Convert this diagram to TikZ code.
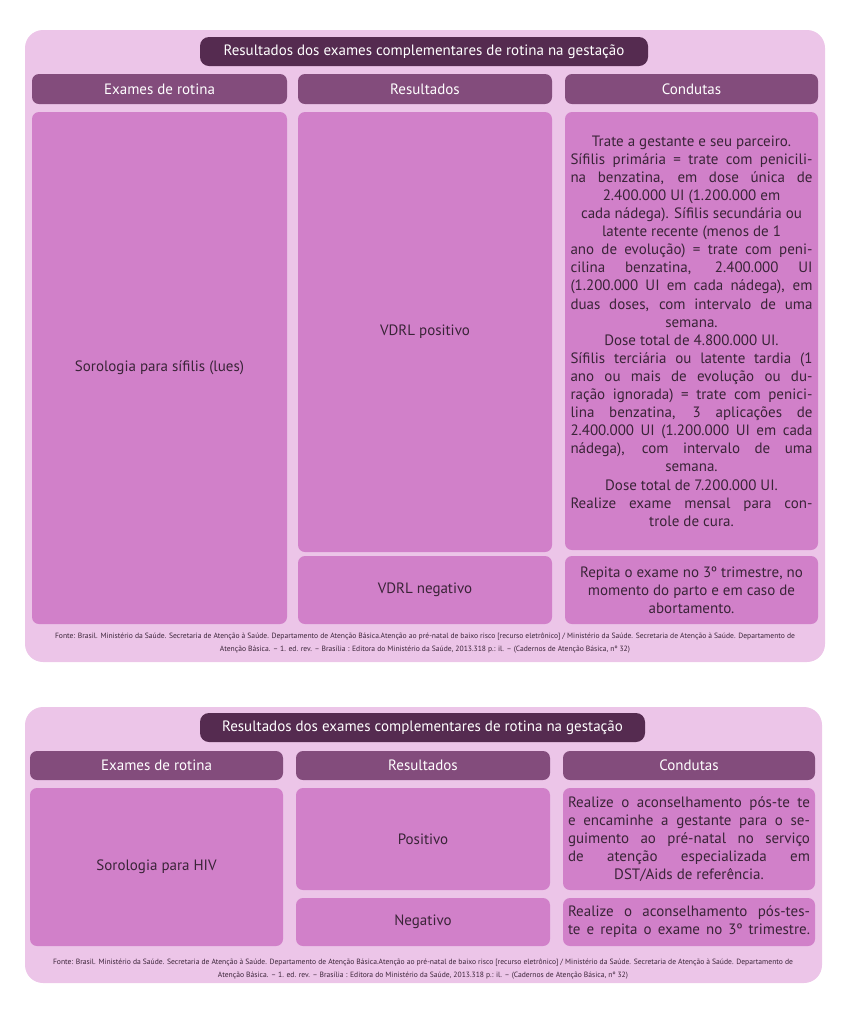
\documentclass[tikz,border=0pt]{standalone}
\usepackage{fontspec}
\setmainfont{PT Sans}
\definecolor{panel}{HTML}{ECC5E8}
\definecolor{cell}{HTML}{D180C9}
\definecolor{hdr}{HTML}{834C7C}
\definecolor{ttl}{HTML}{552B50}
\definecolor{ink}{HTML}{3A2438}
\newcommand{\J}[1]{\makebox[242pt][s]{#1}}
\begin{document}
\begin{tikzpicture}[x=1pt,y=-1pt,
  panelbox/.style={fill=panel,rounded corners=18pt,inner sep=0},
  titlebox/.style={fill=ttl,rounded corners=9pt,text=white,font=\fontsize{15}{18}\selectfont,inner sep=0},
  hdrbox/.style={fill=hdr,rounded corners=7pt,text=white,font=\fontsize{15}{18}\selectfont,inner sep=0},
  cellbox/.style={fill=cell,rounded corners=7pt,text=ink,font=\fontsize{15}{18.1}\selectfont,inner sep=0,align=center},
  foot/.style={text=ink,font=\fontsize{7.6}{13}\selectfont,align=center,inner sep=0}]
\useasboundingbox (0,0) rectangle (849,1013);
% ---------- top panel
\node[panelbox,minimum width=800pt,minimum height=632pt] (p1) at (425,346) {};
\node[titlebox,minimum width=448pt,minimum height=29pt] (t1) at (424,51.5) {Resultados dos exames complementares de rotina na gestação};
\node[hdrbox,minimum width=255pt,minimum height=30pt] (h11) at (159.5,89) {Exames de rotina};
\node[hdrbox,minimum width=254pt,minimum height=30pt] (h12) at (425,89) {Resultados};
\node[hdrbox,minimum width=253pt,minimum height=30pt] (h13) at (691.5,89) {Condutas};
\node[cellbox,minimum width=255pt,minimum height=512pt] (c11) at (159.5,368) {Sorologia para sífilis (lues)};
\node[cellbox,minimum width=254pt,minimum height=440pt] (c12) at (425,332) {VDRL positivo};
\node[cellbox,minimum width=254pt,minimum height=68pt] (c13) at (425,590) {VDRL negativo};
\node[cellbox,minimum width=253pt,minimum height=438pt] (c14) at (691.5,331) {Trate a gestante e seu parceiro.\\
\J{Sífilis primária = trate com penicili-}\\
\J{na benzatina, em dose única de}\\
2.400.000 UI (1.200.000 em\\
cada nádega). Sífilis secundária ou\\
latente recente (menos de 1\\
\J{ano de evolução) = trate com peni-}\\
\J{cilina benzatina, 2.400.000 UI}\\
\J{(1.200.000 UI em cada nádega), em}\\
\J{duas doses, com intervalo de uma}\\
semana.\\
Dose total de 4.800.000 UI.\\
\J{Sífilis terciária ou latente tardia (1}\\
\J{ano ou mais de evolução ou du-}\\
\J{ração ignorada) = trate com penici-}\\
\J{lina benzatina, 3 aplicações de}\\
\J{2.400.000 UI (1.200.000 UI em cada}\\
\J{nádega), com intervalo de uma}\\
semana.\\
Dose total de 7.200.000 UI.\\
\J{Realize exame mensal para con-}\\
trole de cura.};
\node[cellbox,minimum width=253pt,minimum height=68pt] (c15) at (691.5,590) {Repita o exame no 3º trimestre, no\\ momento do parto e em caso de\\ abortamento.};
\node[foot] (f1) at (425,643.5) {Fonte: Brasil. Ministério da Saúde. Secretaria de Atenção à Saúde. Departamento de Atenção Básica.Atenção ao pré-natal de baixo risco [recurso eletrônico] / Ministério da Saúde. Secretaria de Atenção à Saúde. Departamento de\\ Atenção Básica. – 1. ed. rev. – Brasília : Editora do Ministério da Saúde, 2013.318 p.: il. – (Cadernos de Atenção Básica, nº 32)};
% ---------- bottom panel
\node[panelbox,minimum width=797pt,minimum height=276pt] (p2) at (423.5,845) {};
\node[titlebox,minimum width=445pt,minimum height=29pt] (t2) at (422.5,727.5) {Resultados dos exames complementares de rotina na gestação};
\node[hdrbox,minimum width=253pt,minimum height=29pt] (h21) at (156.5,765.5) {Exames de rotina};
\node[hdrbox,minimum width=254pt,minimum height=29pt] (h22) at (423,765.5) {Resultados};
\node[hdrbox,minimum width=252pt,minimum height=29pt] (h23) at (689,765.5) {Condutas};
\node[cellbox,minimum width=253pt,minimum height=158pt] (c21) at (156.5,867) {Sorologia para HIV};
\node[cellbox,minimum width=254pt,minimum height=102pt] (c22) at (423,839) {Positivo};
\node[cellbox,minimum width=254pt,minimum height=48pt] (c23) at (423,922) {Negativo};
\node[cellbox,minimum width=252pt,minimum height=102pt] (c24) at (689,839) {\J{Realize o aconselhamento pós-te te}\\
\J{e encaminhe a gestante para o se-}\\
\J{guimento ao pré-natal no serviço}\\
\J{de atenção especializada em}\\
DST/Aids de referência.};
\node[cellbox,minimum width=252pt,minimum height=48pt] (c25) at (689,922) {\J{Realize o aconselhamento pós-tes-}\\
\J{te e repita o exame no 3º trimestre.}};
\node[foot] (f2) at (423,969) {Fonte: Brasil. Ministério da Saúde. Secretaria de Atenção à Saúde. Departamento de Atenção Básica.Atenção ao pré-natal de baixo risco [recurso eletrônico] / Ministério da Saúde. Secretaria de Atenção à Saúde. Departamento de\\ Atenção Básica. – 1. ed. rev. – Brasília : Editora do Ministério da Saúde, 2013.318 p.: il. – (Cadernos de Atenção Básica, nº 32)};
\end{tikzpicture}
\end{document}
